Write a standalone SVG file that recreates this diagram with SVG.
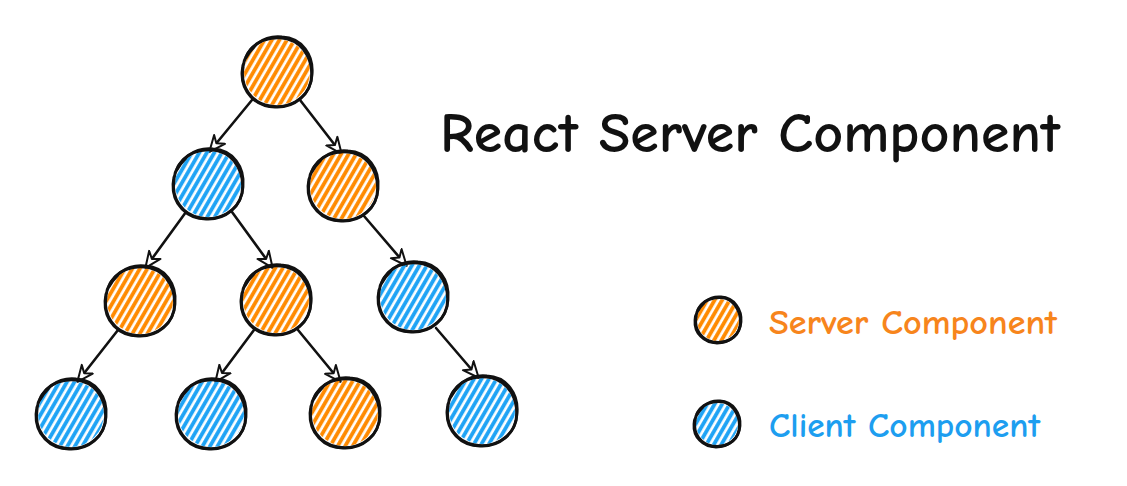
<svg xmlns="http://www.w3.org/2000/svg" xmlns:xlink="http://www.w3.org/1999/xlink" width="1127" height="486" viewBox="0 0 1127 486">
<style>
.ol{fill:none;stroke:#111;stroke-width:2.8;stroke-linecap:round;stroke-linejoin:round}
.edge{fill:none;stroke:#111;stroke-width:2.6;stroke-linecap:round;marker-end:url(#arr)}
.srv{fill:url(#hO)}
.cli{fill:url(#hB)}
.t{font-family:"Comic Sans MS","Comic Neue","Noto Sans","DejaVu Sans",sans-serif;font-weight:bold}
</style>
<defs>
<pattern id="hO" patternUnits="userSpaceOnUse" width="6.5" height="6.5" patternTransform="rotate(30)">
<line x1="2" y1="0" x2="2" y2="6.5" stroke="#ff8a00" stroke-width="3.8"/>
</pattern>
<pattern id="hB" patternUnits="userSpaceOnUse" width="6.5" height="6.5" patternTransform="rotate(30)">
<line x1="2" y1="0" x2="2" y2="6.5" stroke="#1ea3f5" stroke-width="3.8"/>
</pattern>
<marker id="arr" markerWidth="20" markerHeight="18" refX="16" refY="9" orient="auto" markerUnits="userSpaceOnUse">
<path d="M1,2 L17,9 L1,16 L6,9 Z" fill="#fff" stroke="#111" stroke-width="2" stroke-linejoin="round"/>
</marker>
<g id="ring">
<path class="ol" d="M-34,-5 C-32,-25 -12,-37 5,-35 C25,-34 37,-17 35,3 C34,23 17,36 -2,35 C-21,35 -36,20 -35,0 C-35,-8 -30,-18 -22,-26"/>
<path class="ol" d="M-31,-15 C-24,-31 -6,-37 10,-33 C28,-28 37,-10 34,9 C30,27 12,37 -7,34 C-25,31 -37,15 -34,-4"/>
</g>
<g id="ringS">
<path class="ol" d="M-22,-3 C-21,-16 -8,-24 3,-23 C16,-22 24,-11 23,2 C22,15 11,23 -1,23 C-14,23 -24,13 -23,0 C-23,-5 -19,-12 -14,-17"/>
<path class="ol" d="M-20,-10 C-15,-20 -4,-24 7,-22 C18,-18 24,-6 22,6 C20,18 8,24 -5,22 C-16,20 -24,10 -22,-3"/>
</g>
</defs>
<rect width="1127" height="486" fill="#fff"/>
<g id="connectors">
<line class="edge" x1="252" y1="100" x2="210" y2="151"/>
<line class="edge" x1="300" y1="100" x2="341" y2="153"/>
<line class="edge" x1="186" y1="212" x2="146" y2="267"/>
<line class="edge" x1="232" y1="212" x2="272" y2="267"/>
<line class="edge" x1="364" y1="216" x2="406" y2="265"/>
<line class="edge" x1="118" y1="330" x2="78" y2="381"/>
<line class="edge" x1="254" y1="330" x2="216" y2="381"/>
<line class="edge" x1="298" y1="330" x2="340" y2="381"/>
<line class="edge" x1="436" y1="328" x2="478" y2="377"/>
</g>
<g id="n1"><circle class="srv" cx="277" cy="72" r="33"/><use xlink:href="#ring" x="277" y="72"/></g>
<g id="n2"><circle class="cli" cx="208" cy="184" r="33"/><use xlink:href="#ring" x="208" y="184"/></g>
<g id="n3"><circle class="srv" cx="343" cy="186" r="33"/><use xlink:href="#ring" x="343" y="186"/></g>
<g id="n4"><circle class="srv" cx="140" cy="301" r="33"/><use xlink:href="#ring" x="140" y="301"/></g>
<g id="n5"><circle class="srv" cx="276" cy="300" r="33"/><use xlink:href="#ring" x="276" y="300"/></g>
<g id="n6"><circle class="cli" cx="413" cy="297" r="33"/><use xlink:href="#ring" x="413" y="297"/></g>
<g id="n7"><circle class="cli" cx="71" cy="414" r="33"/><use xlink:href="#ring" x="71" y="414"/></g>
<g id="n8"><circle class="cli" cx="211" cy="414" r="33"/><use xlink:href="#ring" x="211" y="414"/></g>
<g id="n9"><circle class="srv" cx="345" cy="413" r="33"/><use xlink:href="#ring" x="345" y="413"/></g>
<g id="n10"><circle class="cli" cx="482" cy="411" r="33"/><use xlink:href="#ring" x="482" y="411"/></g>
<g id="title"><text class="t" x="440" y="152" font-size="56" fill="#111" textLength="620" lengthAdjust="spacingAndGlyphs">React Server Component</text></g>
<g id="legend-server"><circle class="srv" cx="718" cy="320" r="21"/><use xlink:href="#ringS" x="718" y="320"/>
<text class="t" x="769" y="334" font-size="35" fill="#f7851c" textLength="288" lengthAdjust="spacingAndGlyphs">Server Component</text></g>
<g id="legend-client"><circle class="cli" cx="717" cy="424" r="21"/><use xlink:href="#ringS" x="717" y="424"/>
<text class="t" x="769" y="437" font-size="35" fill="#1d9ef0" textLength="271" lengthAdjust="spacingAndGlyphs">Client Component</text></g>
</svg>
